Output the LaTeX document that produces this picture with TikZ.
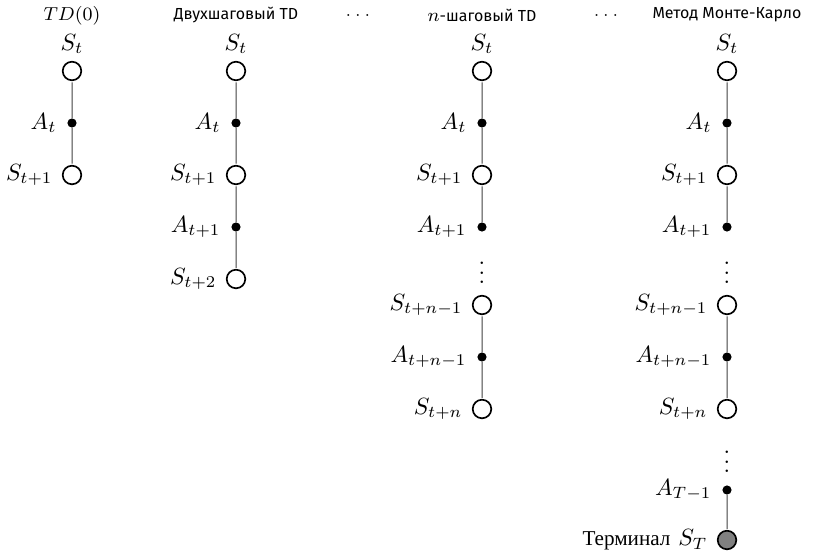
\RequirePackage{fix-cm}
\documentclass[tikz,border=0pt]{standalone}
\usepackage{fontspec}
\newfontfamily\hdr{Fira Sans}
\newfontfamily\trm{Liberation Serif}
\begin{document}
\begin{tikzpicture}[x=0.4255pt,y=-0.4255pt,scale=2.35,transform shape,
  st/.style={circle,draw,line width=1.7pt,minimum size=7.9pt,inner sep=0pt,fill=white},
  term/.style={st,fill=black!50},
  ac/.style={circle,fill=black,minimum size=3.9pt,inner sep=0pt},
  lab/.style={anchor=east,inner sep=0pt,font=\normalsize},
  top/.style={inner sep=0pt,font=\normalsize},
  head/.style={inner sep=0pt,font=\fontsize{6.8}{8}\selectfont\hdr},
  conn/.style={draw=black!75,line width=1pt}]
\useasboundingbox (0,0) rectangle (813,551);
% headers
\node[head,font=\fontsize{8}{9}\selectfont] (h1) at (72,16) {$TD(0)$};
\node[head] (h2) at (236,15) {Двухшаговый TD};
\node[head] (hd1) at (358,16) {$\cdots$};
\node[head] (h3) at (482,15) {{\fontsize{8}{9}\selectfont$n$}-шаговый TD};
\node[head] (hd2) at (606,16) {$\cdots$};
\node[head] (h4) at (727,15) {Метод Монте-Карло};
% column 1
\node[top] (t1) at (72,44) {$S_t$};
\node[st] (a0) at (72,71) {};
\node[ac] (a1) at (72,123) {};
\node[st] (a2) at (72,175) {};
\node[lab] (la1) at (57,123) {$A_t$};
\node[lab] (la2) at (53,175) {$S_{t+1}$};
\draw[conn] (a0) -- (a1) -- (a2);
% column 2
\node[top] (t2) at (236,44) {$S_t$};
\node[st] (b0) at (236,71) {};
\node[ac] (b1) at (236,123) {};
\node[st] (b2) at (236,175) {};
\node[ac] (b3) at (236,227) {};
\node[st] (b4) at (236,279) {};
\node[lab] (lb1) at (221,123) {$A_t$};
\node[lab] (lb2) at (217,175) {$S_{t+1}$};
\node[lab] (lb3) at (221,227) {$A_{t+1}$};
\node[lab] (lb4) at (217,279) {$S_{t+2}$};
\draw[conn] (b0) -- (b1) -- (b2) -- (b3) -- (b4);
% column 3
\node[top] (t3) at (482,44) {$S_t$};
\node[st] (c0) at (482,71) {};
\node[ac] (c1) at (482,123) {};
\node[st] (c2) at (482,175) {};
\node[ac] (c3) at (482,227) {};
\node[top] (cd) at (482,266) {$\vdots$};
\node[st] (c4) at (482,305) {};
\node[ac] (c5) at (482,357) {};
\node[st] (c6) at (482,409) {};
\node[lab] (lc1) at (467,123) {$A_t$};
\node[lab] (lc2) at (463,175) {$S_{t+1}$};
\node[lab] (lc3) at (467,227) {$A_{t+1}$};
\node[lab] (lc4) at (463,305) {$S_{t+n-1}$};
\node[lab] (lc5) at (467,357) {$A_{t+n-1}$};
\node[lab] (lc6) at (463,409) {$S_{t+n}$};
\draw[conn] (c0) -- (c1) -- (c2) -- (c3);
\draw[conn] (c4) -- (c5) -- (c6);
% column 4
\node[top] (t4) at (727,44) {$S_t$};
\node[st] (d0) at (727,71) {};
\node[ac] (d1) at (727,123) {};
\node[st] (d2) at (727,175) {};
\node[ac] (d3) at (727,227) {};
\node[top] (dd1) at (727,266) {$\vdots$};
\node[st] (d4) at (727,305) {};
\node[ac] (d5) at (727,357) {};
\node[st] (d6) at (727,409) {};
\node[top] (dd2) at (727,455) {$\vdots$};
\node[ac] (d7) at (727,490) {};
\node[term] (d8) at (727,540) {};
\node[lab] (ld1) at (712,123) {$A_t$};
\node[lab] (ld2) at (708,175) {$S_{t+1}$};
\node[lab] (ld3) at (712,227) {$A_{t+1}$};
\node[lab] (ld4) at (708,305) {$S_{t+n-1}$};
\node[lab] (ld5) at (712,357) {$A_{t+n-1}$};
\node[lab] (ld6) at (708,409) {$S_{t+n}$};
\node[lab] (ld7) at (712,490) {$A_{T-1}$};
\node[lab] (ld8) at (708,540) {{\trm\fontsize{9}{11}\selectfont Терминал} $S_T$};
\draw[conn] (d0) -- (d1) -- (d2) -- (d3);
\draw[conn] (d4) -- (d5) -- (d6);
\draw[conn] (d7) -- (d8);
\end{tikzpicture}
\end{document}
